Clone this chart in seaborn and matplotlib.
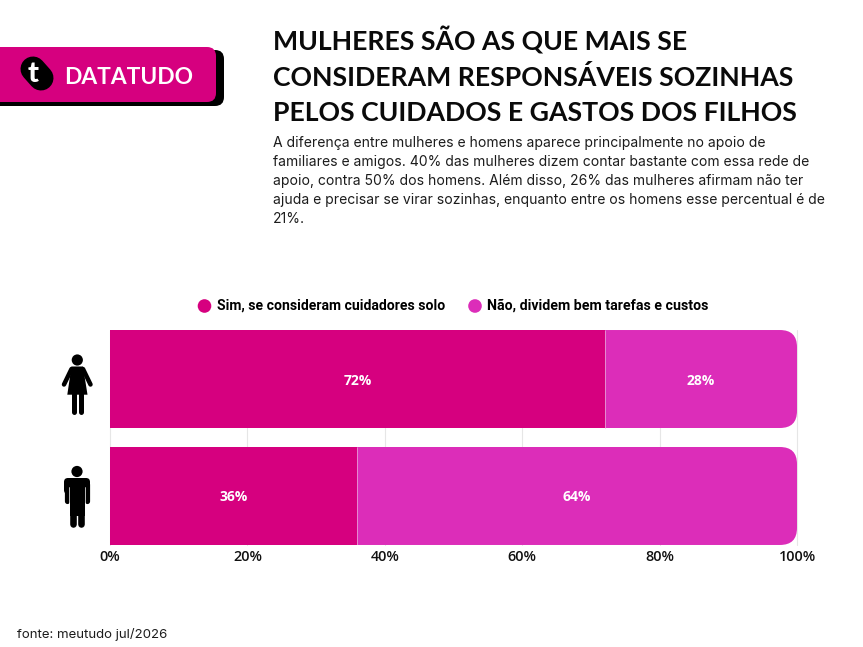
import matplotlib
matplotlib.use("Agg")
import matplotlib.pyplot as plt
import seaborn as sns
from matplotlib.patches import FancyBboxPatch, Circle, Polygon, Rectangle
from matplotlib.transforms import IdentityTransform

# dados
grupos = ["Mulheres", "Homens"]
sim = [72, 36]
nao = [28, 64]
ticks = [0, 20, 40, 60, 80, 100]
serie_sim = "Sim, se consideram cuidadores solo"
serie_nao = "Não, dividem bem tarefas e custos"
titulo = ["MULHERES SÃO AS QUE MAIS SE",
          "CONSIDERAM RESPONSÁVEIS SOZINHAS",
          "PELOS CUIDADOS E GASTOS DOS FILHOS"]
texto = ["A diferença entre mulheres e homens aparece principalmente no apoio de",
         "familiares e amigos. 40% das mulheres dizem contar bastante com essa rede de",
         "apoio, contra 50% dos homens. Além disso, 26% das mulheres afirmam não ter",
         "ajuda e precisar se virar sozinhas, enquanto entre os homens esse percentual é de",
         "21%."]
fonte = "fonte: meutudo jul/2026"

ROSA = "#D6007F"
MAGENTA = "#DC2DB9"
W, H = 863, 647
px = 72 / 100  # px -> pt

sns.set_theme(style="white")
plt.rcParams["font.family"] = ["Inter", "DejaVu Sans"]

fig = plt.figure(figsize=(W / 100, H / 100), dpi=100, facecolor="white")

# camada de pagina em pixels
pg = fig.add_axes([0, 0, 1, 1], zorder=3)
pg.set_xlim(0, W)
pg.set_ylim(H, 0)
pg.axis("off")
pg.patch.set_alpha(0)

# grafico
ax = fig.add_axes([110 / W, 1 - 545 / H, 687 / W, 215 / H], zorder=1)
sns.barplot(x=sim, y=grupos, color=ROSA, saturation=1, width=0.8376, ax=ax, linewidth=0)
sns.barplot(x=nao, y=grupos, color=MAGENTA, saturation=1, width=0.8376, ax=ax,
            left=sim, linewidth=0)
ax.set_xlim(0, 100)
ax.set_ylim(1.419, -0.419)
ax.set_xticks(ticks)
ax.set_xticklabels([f"{t}%" for t in ticks], fontsize=10.4, fontweight="semibold",
                   color="#111111", family="Open Sans")
ax.set_yticks([])
ax.set_xlabel("")
ax.set_ylabel("")
ax.tick_params(axis="x", length=0, pad=3.5)
ax.grid(axis="x", color="#E6E6E6", lw=0.8)
ax.set_axisbelow(True)
for g in ax.get_xgridlines():
    g.set_clip_on(False)
sns.despine(ax=ax, left=True, bottom=True)

rotulos = ax.bar_label(ax.containers[0], labels=[f"{v}%" for v in sim], label_type="center",
                       color="white", fontsize=10, fontweight="bold", family="Open Sans")
rotulos += ax.bar_label(ax.containers[1], labels=[f"{v}%" for v in nao], label_type="center",
                        color="white", fontsize=10, fontweight="bold", family="Open Sans")
for r in rotulos:
    r.set_va("center_baseline")

# cantos arredondados so do lado direito
for b in ax.containers[1]:
    e = b.get_window_extent()
    clip = FancyBboxPatch((e.x0 - 40, e.y0), e.width + 40, e.height,
                          boxstyle="round,pad=0,rounding_size=17",
                          transform=IdentityTransform())
    b.set_clip_path(clip)
for v, b in zip(sim, ax.containers[0]):
    ax.vlines(v, b.get_y(), b.get_y() + b.get_height(), color="#E99AD4", lw=0.6, zorder=4)

# legenda
pg.add_patch(Circle((204.5, 306), 6.8, color=ROSA, lw=0))
pg.text(217, 306, serie_sim, fontsize=10.1, fontweight="bold", va="center", color="black",
        family="Roboto")
pg.add_patch(Circle((475, 306), 6.8, color=MAGENTA, lw=0))
pg.text(487, 306, serie_nao, fontsize=10.13, fontweight="bold", va="center", color="black",
        family="Roboto")

# titulo e texto
for i, linha in enumerate(titulo):
    pg.text(273, 50 + i * 35.5, linha, fontsize=19.15, fontweight="bold", va="baseline",
            color="#0A0A0A", family="Lato")
for i, linha in enumerate(texto):
    pg.text(273, 143 + i * 19, linha, fontsize=10.06, va="center", color="#1C1C1C")
pg.text(17, 634.5, fonte, fontsize=9.5, va="center", color="#1C1C1C")

# selo DATATUDO
pg.add_patch(FancyBboxPatch((-30, 50), 254, 56, boxstyle="round,pad=0,rounding_size=9",
                            fc="black", ec="none"))
pg.add_patch(FancyBboxPatch((-30, 47), 246, 55, boxstyle="round,pad=0,rounding_size=9",
                            fc=ROSA, ec="none"))
pg.plot([33, 41], [69, 78], color="black", lw=25 * px, solid_capstyle="round")
pg.text(33, 74.5, "t", color="white", fontsize=21, fontweight="black", ha="center",
        va="center", family="Lato")
pg.add_patch(Circle((45.5, 80), 2.8, color=ROSA, lw=0))
pg.text(64.5, 77, "DATATUDO", color="white", fontsize=16.4, fontweight="bold", va="center",
        family="Lato")

# icone mulher
pg.add_patch(Circle((77.3, 360), 5.6, color="black", lw=0))
pg.add_patch(Polygon([(71.5, 366.5), (83, 366.5), (87.5, 394.7), (67.3, 394.7)], color="black", lw=0))
pg.plot([71.5, 64], [369, 384.5], color="black", lw=4.5 * px, solid_capstyle="round")
pg.plot([83, 90.5], [369, 384.5], color="black", lw=4.5 * px, solid_capstyle="round")
for x in (73.7, 80.8):
    pg.plot([x, x], [394, 411.5], color="black", lw=5 * px, solid_capstyle="round")

# icone homem
pg.add_patch(Circle((77, 471.5), 5.6, color="black", lw=0))
pg.add_patch(FancyBboxPatch((64, 478), 26, 16, boxstyle="round,pad=0,rounding_size=4",
                            fc="black", ec="none"))
pg.add_patch(Rectangle((69.5, 484), 15.5, 32, color="black", lw=0))
for x in (66.6, 87.4):
    pg.plot([x, x], [484, 501], color="black", lw=5.2 * px, solid_capstyle="round")
for x in (69.2, 85.0):
    pg.plot([x, x], [487, 505], color="white", lw=0.7 * px)
for x in (73.3, 80.7):
    pg.plot([x, x], [512, 524], color="black", lw=6.6 * px, solid_capstyle="round")

fig.savefig("out.png", dpi=100)
